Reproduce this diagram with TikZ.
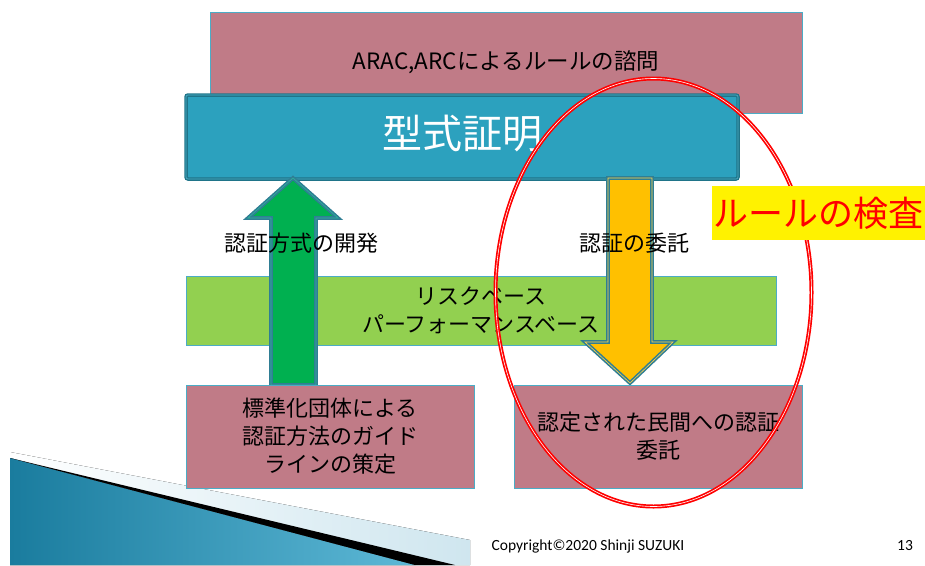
\documentclass[tikz,border=0pt]{standalone}
\usepackage{fontspec}
\setmainfont{Noto Sans CJK JP}
\newfontfamily\latinsans{Carlito}
\usetikzlibrary{shapes.geometric}
\definecolor{pinkfill}{HTML}{C07B87}
\definecolor{boxedge}{HTML}{4BACC6}
\definecolor{tealfill}{HTML}{2CA1BE}
\definecolor{tealedge}{HTML}{1F7489}
\definecolor{tealinner}{HTML}{4FB3CB}
\definecolor{barfill}{HTML}{92D050}
\definecolor{garrow}{HTML}{00B050}
\definecolor{yarrow}{HTML}{FFC000}
\definecolor{arrowedge}{HTML}{2F7E94}
\definecolor{swdark}{HTML}{1A7C9E}
\definecolor{swlight}{HTML}{5DB8D6}
\definecolor{swpale}{HTML}{CFE6EF}
\begin{document}
\begin{tikzpicture}[x=1pt,y=-1pt,
  every node/.style={outer sep=0pt},
  pinkbox/.style={rectangle, fill=pinkfill, draw=boxedge, line width=0.8pt, inner sep=0pt},
  barbox/.style={rectangle, fill=barfill, draw=boxedge, line width=0.8pt, inner sep=0pt},
  tealbox/.style={rectangle, fill=tealfill, draw=tealedge, line width=3.5pt, rounded corners=2pt, inner sep=0pt},
  jtext/.style={font=\fontsize{22}{28}\selectfont, align=center, text=black},
  blockarrow/.style={draw=arrowedge, line width=3.8pt, line join=miter},
  ring/.style={ellipse, draw=red, line width=1.7pt, double=white, double distance=0.6pt, inner sep=0pt},
  tag/.style={rectangle, fill=yellow, inner sep=0pt, text=red, font=\fontsize{35}{38}\selectfont},
  foot/.style={font=\latinsans\fontsize{15.5}{18}\selectfont, text=black, inner sep=0pt}
]
\useasboundingbox (0,0) rectangle (925,565);

% decorative swoosh (bottom left)
\fill[left color=white, right color=swpale] (10,452) -- (470,540) -- (470,565) -- (10,565) -- cycle;
\fill[left color=swdark, right color=swlight] (10,458) -- (415,565) -- (10,565) -- cycle;
\fill[black] (10,458) -- (455,565) -- (415,565) -- cycle;

% boxes
\node[pinkbox, minimum width=592pt, minimum height=101pt] (arac) at (506,62.5)
  {\fontsize{22.5}{26}\selectfont ARAC,ARCによるルールの諮問};
\node[tealbox, minimum width=552pt, minimum height=84pt] (cert) at (462,137) {};
\draw[tealinner, line width=0.6pt, rounded corners=2pt] (cert.south west) rectangle (cert.north east);
\node[text=white, font=\fontsize{40}{44}\selectfont] (certtxt) at (462,134) {型式証明};

\node[barbox, minimum width=590pt, minimum height=69pt] (bar) at (481,310.5) {};

% block arrows
\path (293,178) coordinate (gtip) (293,385) coordinate (gbase)
      (630,178) coordinate (ytop) (630,383) coordinate (ytip);
\draw[blockarrow, fill=garrow] (gtip) -- (338,218) -- (316,218) -- (316,385) -- (271,385) -- (271,218) -- (248,218) -- cycle;
\draw[line width=0.6pt, draw=garrow!40!tealinner] (gtip) -- (338,218) -- (316,218) -- (316,385) -- (271,385) -- (271,218) -- (248,218) -- cycle;
\draw[blockarrow, fill=yarrow] (608,178) -- (652,178) -- (652,342) -- (673,342) -- (ytip) -- (585,342) -- (608,342) -- cycle;
\draw[line width=0.6pt, draw=yarrow!70!white] (608,178) -- (652,178) -- (652,342) -- (673,342) -- (ytip) -- (585,342) -- (608,342) -- cycle;

\node[jtext] (bartxt) at (bar.center) {リスクベース\\パーフォーマンスベース};

\node[pinkbox, minimum width=288pt, minimum height=103pt] (lbox) at (330,436.5) {};
\node[jtext] (lboxtxt) at (lbox.center) {標準化団体による\\認証方法のガイド\\ラインの策定};
\node[pinkbox, minimum width=288pt, minimum height=103pt] (rbox) at (658,436.5) {};
\node[jtext] (rboxtxt) at (rbox.center) {認定された民間への認証\\委託};

\node[jtext] (dev) at (301,243) {認証方式の開発};
\node[jtext] (dele) at (634,243) {認証の委託};

% red ellipse and tag
\node[ring, minimum width=316pt, minimum height=428pt] (circ) at (653.5,292.5) {};
\node[tag, minimum width=213pt, minimum height=54pt] (check) at (818.5,213) {};
\node[text=red, font=\fontsize{35}{38}\selectfont, anchor=west, inner sep=0pt] (checktxt) at (713,213) {ルールの検査};

% footer
\node[foot] (copy) at (588,546) {Copyright©2020 Shinji SUZUKI};
\node[foot] (page) at (905,546) {13};
\end{tikzpicture}
\end{document}
